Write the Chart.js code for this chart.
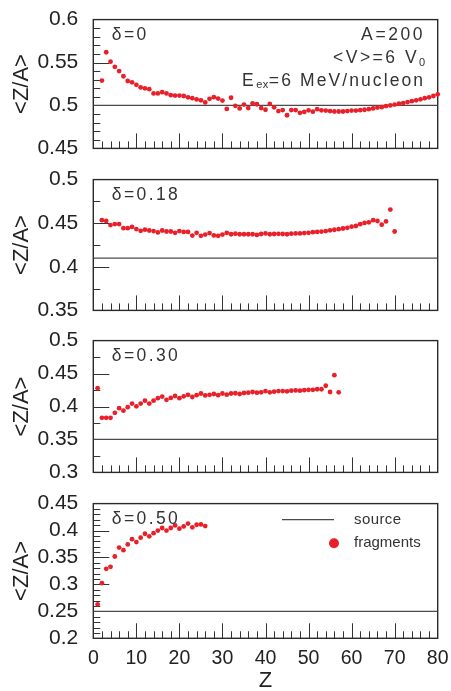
<!DOCTYPE html>
<html>
<head>
<meta charset="utf-8">
<script src="https://cdn.jsdelivr.net/npm/chart.js@4/dist/chart.umd.min.js"></script>
<style>
  html, body { margin: 0; padding: 0; background: #fff; }
  #wrap { position: relative; width: 451px; height: 691px; overflow: hidden; background: #fff; }
  #wrap canvas { position: absolute; left: 0; }
</style>
</head>
<body>
<div id="wrap"></div>
<script>
// ---- data: mean charge-to-mass ratio <Z/A> of fragments vs fragment charge Z ----
const deltaLabels = ['δ=0', 'δ=0.18', 'δ=0.30', 'δ=0.50'];
const firstZ = [2, 2, 1, 1];            // charge of the first fragment in each series

const zaDelta000 = [
  0.529, 0.562, 0.551, 0.545, 0.540, 0.534, 0.5285, 0.527, 0.524, 0.521,
  0.520, 0.519, 0.514, 0.514, 0.5155, 0.514, 0.512, 0.5115, 0.5115, 0.511,
  0.5095, 0.5085, 0.507, 0.506, 0.5036, 0.5077, 0.5096, 0.508, 0.5057, 0.496,
  0.509, 0.4996, 0.4965, 0.501, 0.497, 0.5025, 0.5014, 0.497, 0.495, 0.5018,
  0.4978, 0.4935, 0.4946, 0.4886, 0.4946, 0.4946, 0.4914, 0.4925, 0.4943, 0.4928,
  0.4957, 0.4943, 0.494, 0.4935, 0.493, 0.493, 0.493, 0.4935, 0.494, 0.494,
  0.4945, 0.495, 0.4957, 0.4965, 0.4975, 0.498, 0.4993, 0.500, 0.501, 0.502,
  0.5028, 0.504, 0.505, 0.506, 0.5071, 0.5085, 0.5095, 0.511, 0.513
];
const zaDelta018 = [
  0.4535, 0.4525, 0.4479, 0.449, 0.449, 0.4443, 0.4443, 0.4457, 0.4433, 0.4412,
  0.4426, 0.4416, 0.441, 0.4394, 0.4416, 0.4405, 0.4405, 0.439, 0.441, 0.440,
  0.440, 0.4358, 0.439, 0.4355, 0.437, 0.4387, 0.436, 0.4355, 0.437, 0.439,
  0.4373, 0.438, 0.4373, 0.4373, 0.4373, 0.4373, 0.4366, 0.4376, 0.4383, 0.4373,
  0.4376, 0.4378, 0.4376, 0.4373, 0.438, 0.4383, 0.4383, 0.4387, 0.439, 0.4397,
  0.440, 0.4404, 0.441, 0.4418, 0.4425, 0.4432, 0.4439, 0.4447, 0.446, 0.4468,
  0.4489, 0.4503, 0.451, 0.4535, 0.4525, 0.4483, 0.452, 0.4656, 0.4405
];
const zaDelta030 = [
  0.4277, 0.3828, 0.3828, 0.3828, 0.3904, 0.3974, 0.3936, 0.3989, 0.4045, 0.4003,
  0.4045, 0.4088, 0.4045, 0.4088, 0.4126, 0.415, 0.4102, 0.413, 0.4159, 0.4126,
  0.4154, 0.4177, 0.4144, 0.4172, 0.4197, 0.4168, 0.4177, 0.419, 0.4172, 0.4197,
  0.418, 0.4197, 0.4201, 0.419, 0.4205, 0.421, 0.422, 0.421, 0.4215, 0.4234,
  0.4215, 0.4225, 0.4234, 0.4234, 0.423, 0.424, 0.4244, 0.424, 0.4248, 0.4253,
  0.4253, 0.4262, 0.4262, 0.4315, 0.422, 0.4475, 0.4215
];
const zaDelta050 = [
  0.263, 0.3023, 0.329, 0.3327, 0.3518, 0.3684, 0.3636, 0.3743, 0.3839, 0.3786,
  0.3868, 0.394, 0.3893, 0.3952, 0.400, 0.4047, 0.400, 0.4047, 0.4095, 0.4035,
  0.4077, 0.413, 0.4059, 0.4107, 0.4113, 0.4083
];
const seriesZA = [zaDelta000, zaDelta018, zaDelta030, zaDelta050];

// <Z/A> of the emitting source in each case
const sourceZA = [0.5, 0.41, 0.35, 0.25];

// axis ticks
const zRange = [0, 80];
const zTicks = [0, 10, 20, 30, 40, 50, 60, 70, 80];
const zMinorStep = 2;
const yTicks000 = [0.45, 0.5, 0.55, 0.6];
const yTicks018 = [0.35, 0.4, 0.45, 0.5];
const yTicks030 = [0.3, 0.35, 0.4, 0.45, 0.5];
const yTicks050 = [0.2, 0.25, 0.3, 0.35, 0.4, 0.45];
const yTickSets = [yTicks000, yTicks018, yTicks030, yTicks050];
const yMinorSteps = [0.01, 0.025, 0.025, 0.01];

const legendLabels = ['source', 'fragments'];

// ---- appearance ----
const FAMILY = '"Liberation Sans", Arial, Helvetica, sans-serif';
Chart.defaults.font.family = FAMILY;
const RED = '#e8202a';
const INK = '#222';

// frame placement of every panel on the page (chart-area top / bottom)
const frames = [
  { top: 13.3,  bottom: 153.3 },
  { top: 174.0, bottom: 315.0 },
  { top: 335.7, bottom: 476.7 },
  { top: 498.3, bottom: 638.3 }
];
const canvasTops = [0, 160, 321, 484];
const PAGE_H = 691, PAGE_W = 451;
const AXIS_LEFT = 93.3, AXIS_RIGHT = 437.7;

// text drawn piece by piece so sub-scripts can sit lower and smaller
function drawPieces(ctx, pieces, x, baseline, alignRight) {
  const widths = pieces.map(p => {
    ctx.font = `${p.size}px ${FAMILY}`;
    ctx.letterSpacing = (p.ls || 0) + 'px';
    return ctx.measureText(p.t).width;
  });
  const total = widths.reduce((a, b) => a + b, 0);
  let cx = alignRight ? x - total : x;
  pieces.forEach((p, k) => {
    ctx.font = `${p.size}px ${FAMILY}`;
    ctx.letterSpacing = (p.ls || 0) + 'px';
    ctx.fillText(p.t, cx, baseline + (p.dy || 0));
    cx += widths[k];
  });
  ctx.letterSpacing = '0px';
}

const panelDecor = {
  id: 'panelDecor',
  beforeDatasetsDraw(chart, args, opts) {
    const { ctx, chartArea: a, scales } = chart;
    const xs = scales.x, ys = scales.y;
    ctx.save();
    ctx.strokeStyle = '#333';
    ctx.lineWidth = 1;
    ctx.beginPath();
    // ticks along Z, inside the frame
    for (let v = zRange[0] + zMinorStep; v < zRange[1]; v += zMinorStep) {
      const px = Math.round(xs.getPixelForValue(v)) + 0.5;
      const len = zTicks.includes(v) ? 15 : 7;
      ctx.moveTo(px, a.bottom);
      ctx.lineTo(px, a.bottom - len);
    }
    // ticks along <Z/A>, inside the frame
    const ticks = opts.yTicks, step = opts.yMinor;
    const lo = ys.min, hi = ys.max;
    const n = Math.round((hi - lo) / step);
    for (let k = 1; k < n; k++) {
      const v = lo + k * step;
      const py = Math.round(ys.getPixelForValue(v)) + 0.5;
      const major = ticks.some(t => Math.abs(t - v) < 1e-9);
      ctx.moveTo(a.left, py);
      ctx.lineTo(a.left + (major ? 16 : 7), py);
    }
    ctx.stroke();
    // frame
    ctx.lineWidth = 1.4;
    ctx.strokeStyle = '#2a2a2a';
    ctx.strokeRect(a.left, a.top, a.right - a.left, a.bottom - a.top);
    ctx.restore();
  },
  afterDraw(chart, args, opts) {
    const { ctx, chartArea: a } = chart;
    ctx.save();
    ctx.fillStyle = '#333';
    ctx.textBaseline = 'alphabetic';
    drawPieces(ctx, [{ t: opts.label, size: 17.5, ls: 2.4 }], a.left + 18.5, a.top + 20, false);
    if (opts.index === 0) {
      const right = a.right - 12.5;
      drawPieces(ctx, [{ t: 'A=200', size: 17.5, ls: 2.6 }], right, a.top + 20, true);
      drawPieces(ctx, [{ t: '<V>=6 V', size: 17.5, ls: 2.5 }, { t: '0', size: 11, ls: 0, dy: 3 }], right, a.top + 43, true);
      drawPieces(ctx, [{ t: 'E', size: 17.5, ls: 2.5 }, { t: 'ex', size: 11, ls: 0.5, dy: 2 }, { t: '=6 MeV/nucleon', size: 17.5, ls: 2.1 }], right, a.top + 66.5, true);
    }
    if (opts.index === 3) {
      // legend
      const lx0 = a.left + 188.7, lx1 = a.left + 240.7, row1 = a.top + 16, row2 = a.top + 39.7;
      ctx.strokeStyle = '#4a4a4a';
      ctx.lineWidth = 1.3;
      ctx.beginPath();
      ctx.moveTo(lx0, row1);
      ctx.lineTo(lx1, row1);
      ctx.stroke();
      ctx.fillStyle = RED;
      ctx.beginPath();
      ctx.arc(lx1, row2, 5, 0, Math.PI * 2);
      ctx.fill();
      ctx.fillStyle = '#333';
      ctx.textBaseline = 'middle';
      drawPieces(ctx, [{ t: legendLabels[0], size: 15, ls: 0.4 }], a.left + 260.7, row1, false);
      drawPieces(ctx, [{ t: legendLabels[1], size: 15, ls: 0 }], a.left + 260.7, row2, false);
    }
    ctx.restore();
  }
};

const wrap = document.getElementById('wrap');

function makePanel(i) {
  const isLast = i === seriesZA.length - 1;
  const cTop = canvasTops[i];
  const cBottom = isLast ? PAGE_H : frames[i].bottom + 15;
  const cH = Math.round(cBottom - cTop);
  const canvas = document.createElement('canvas');
  canvas.width = PAGE_W;
  canvas.height = cH;
  canvas.style.top = cTop + 'px';
  canvas.style.width = PAGE_W + 'px';
  canvas.style.height = cH + 'px';
  wrap.appendChild(canvas);

  const padTop = frames[i].top - cTop;
  const below = cH - (frames[i].bottom - cTop);
  const ticks = yTickSets[i];
  const points = seriesZA[i].map((v, k) => ({ x: firstZ[i] + k, y: v }));
  const source = zRange.map(z => ({ x: z, y: sourceZA[i] }));

  new Chart(canvas, {
    type: 'scatter',
    data: {
      datasets: [
        {
          label: legendLabels[1],
          data: points,
          backgroundColor: RED,
          borderColor: RED,
          borderWidth: 0,
          pointRadius: 2.4,
          pointHoverRadius: 2.4,
          clip: false
        },
        {
          label: legendLabels[0],
          data: source,
          showLine: true,
          borderColor: '#4a4a4a',
          borderWidth: 1.3,
          pointRadius: 0,
          pointHoverRadius: 0
        }
      ]
    },
    options: {
      responsive: false,
      animation: false,
      events: [],
      devicePixelRatio: 1,
      layout: {
        autoPadding: false,
        padding: { left: 0, right: PAGE_W - AXIS_RIGHT, top: padTop, bottom: isLast ? 0 : below }
      },
      plugins: {
        legend: { display: false },
        tooltip: { enabled: false },
        panelDecor: { index: i, label: deltaLabels[i], yTicks: ticks, yMinor: yMinorSteps[i] }
      },
      scales: {
        x: {
          type: 'linear',
          min: zRange[0],
          max: zRange[1],
          grid: { display: false },
          border: { display: false },
          afterBuildTicks: s => { s.ticks = zTicks.map(v => ({ value: v })); },
          afterFit: s => { s.height = isLast ? below : 0; },
          ticks: {
            display: isLast,
            autoSkip: false,
            maxRotation: 0,
            padding: 1,
            color: INK,
            font: { size: 19.5 },
            callback: v => String(v)
          },
          title: {
            display: isLast,
            text: 'Z',
            color: INK,
            padding: 0,
            font: { size: 22, lineHeight: 0.9 }
          }
        },
        y: {
          type: 'linear',
          min: ticks[0],
          max: ticks[ticks.length - 1],
          grid: { display: false },
          border: { display: false },
          afterBuildTicks: s => { s.ticks = ticks.map(v => ({ value: v })); },
          afterFit: s => { s.width = AXIS_LEFT; },
          ticks: {
            autoSkip: false,
            padding: 7,
            color: INK,
            font: { size: 21 },
            callback: v => String(+Number(v).toFixed(3))
          },
          title: {
            display: true,
            text: '<Z/A>',
            color: INK,
            padding: { top: 9, bottom: 0 },
            font: { size: 22 }
          }
        }
      }
    },
    plugins: [panelDecor]
  });
}

seriesZA.forEach((_, i) => makePanel(i));
</script>
</body>
</html>
